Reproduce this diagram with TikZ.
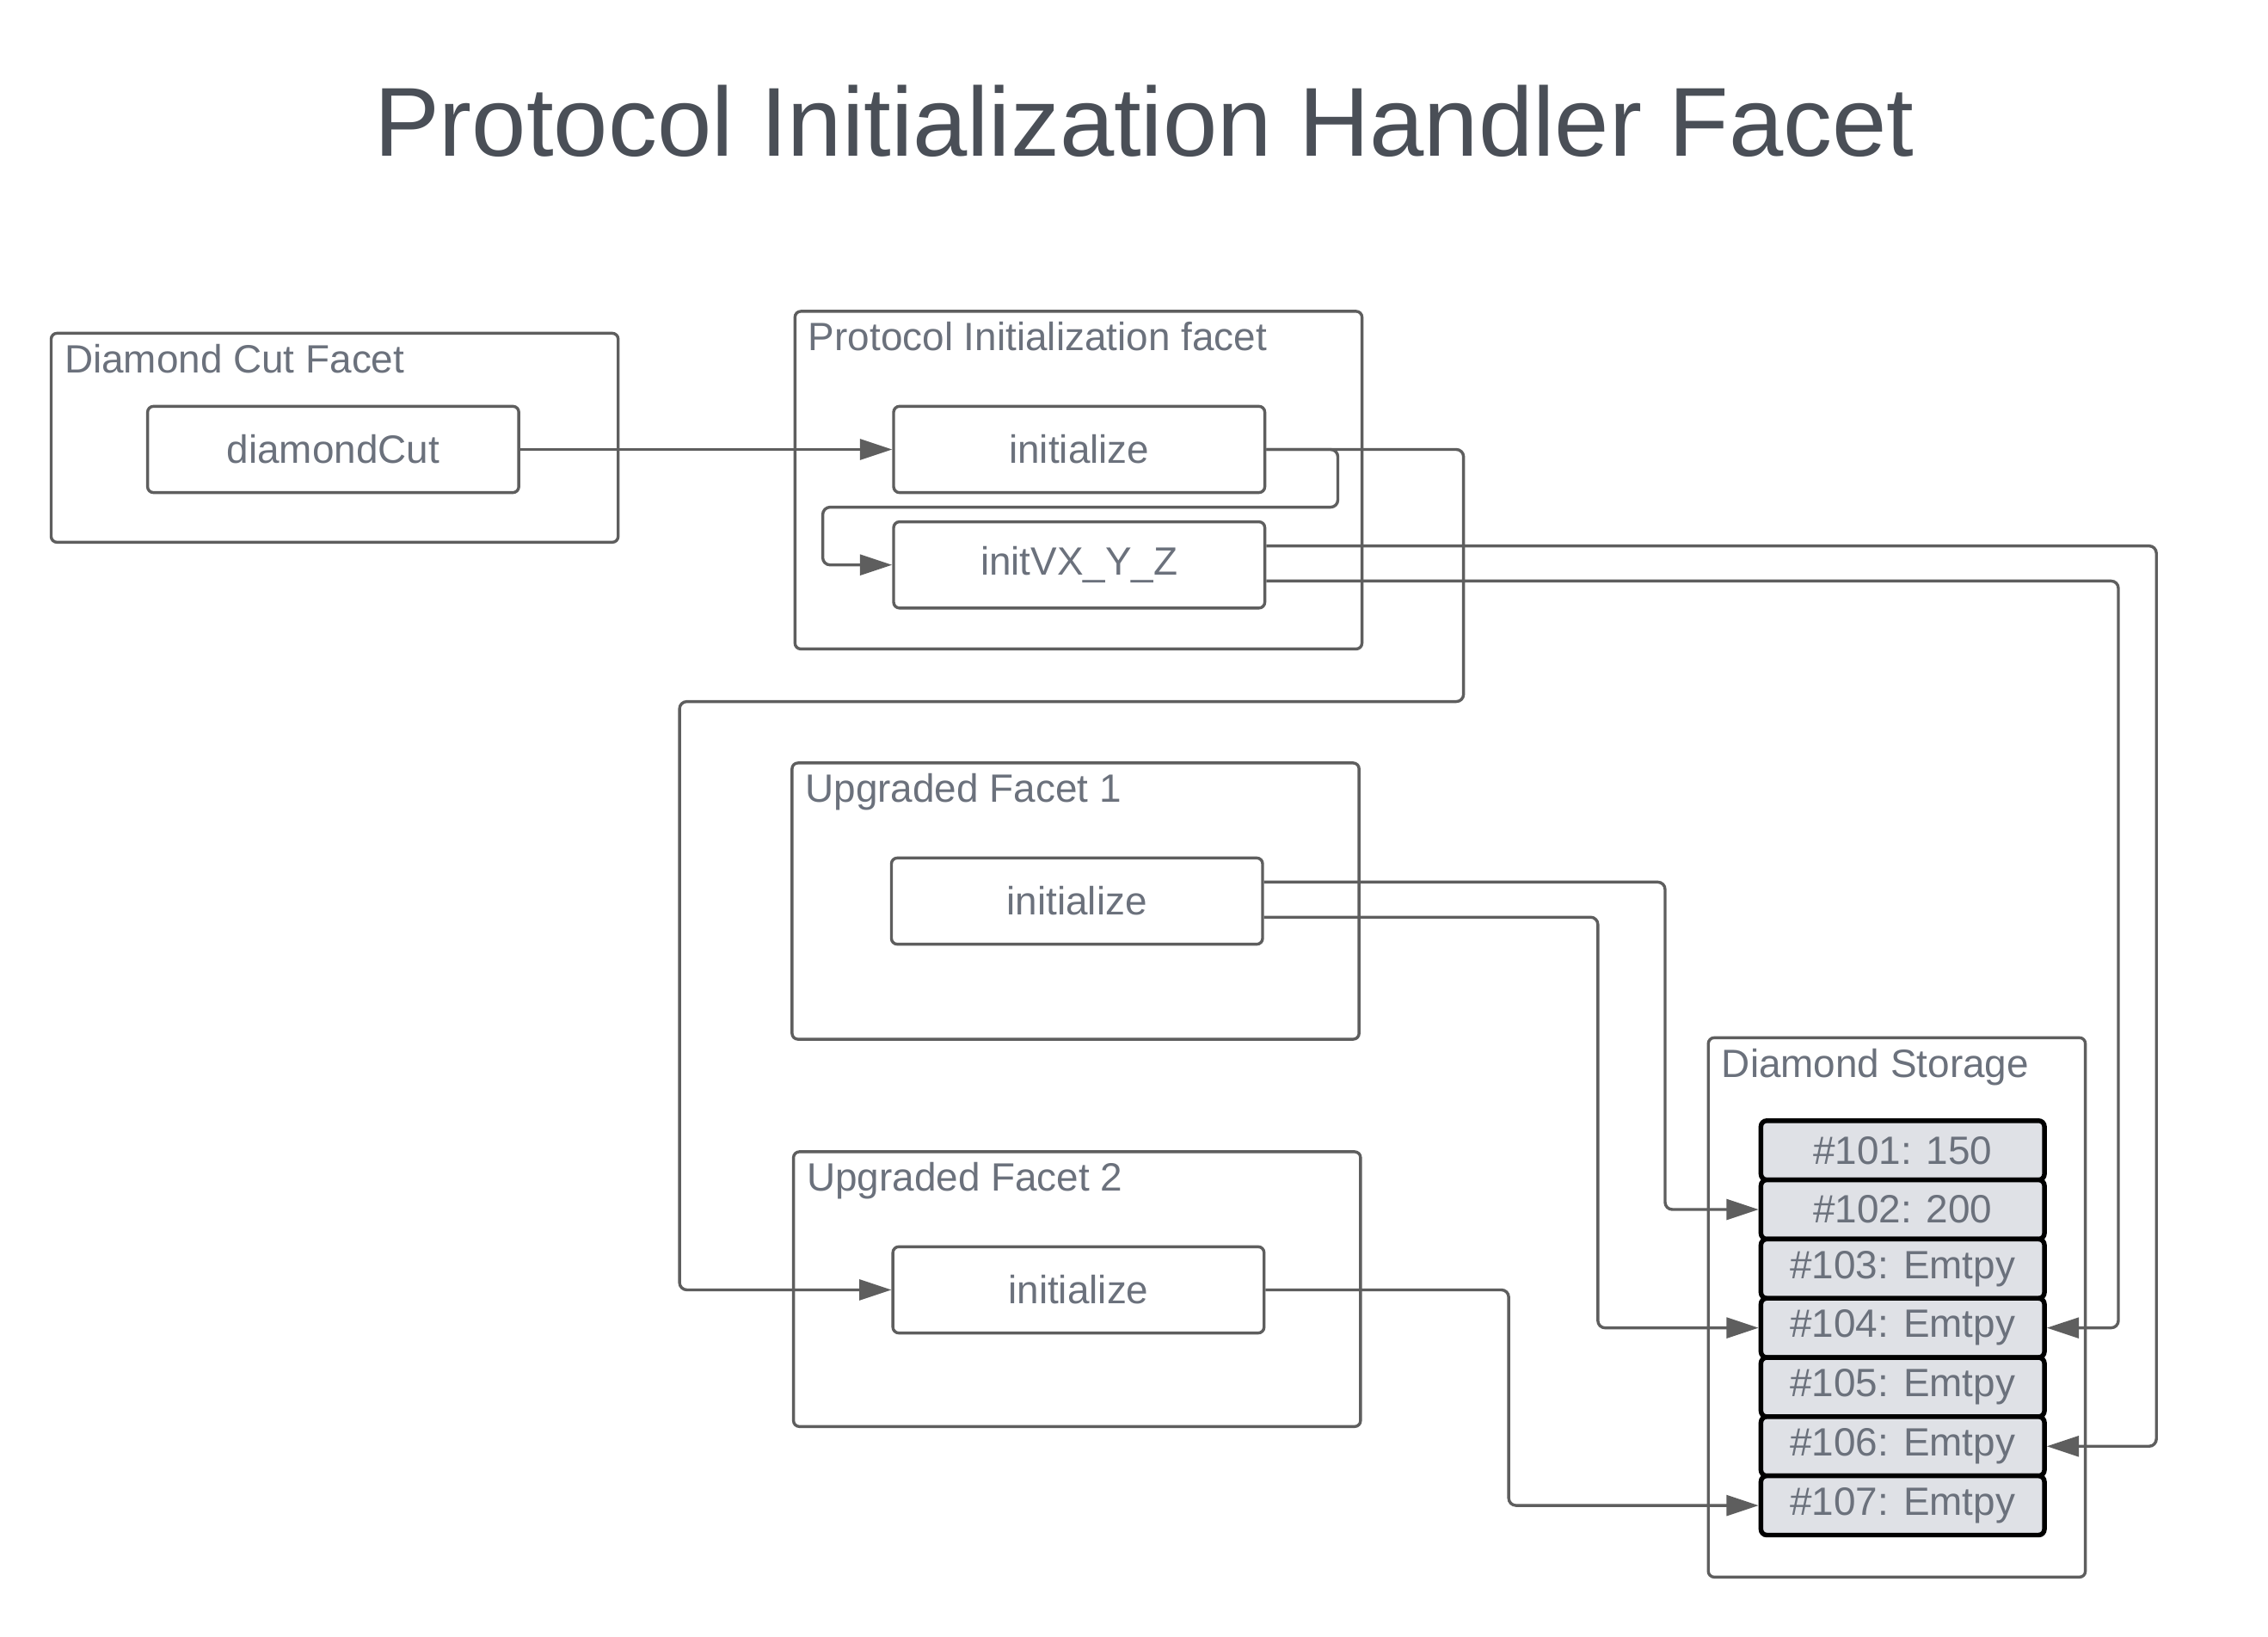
\documentclass[tikz,border=0pt]{standalone}
\usepackage{fontspec}
\setmainfont{Liberation Sans}
\usetikzlibrary{arrows.meta, calc}
\definecolor{titlegray}{HTML}{4A4F57}
\definecolor{textgray}{HTML}{6B717C}
\definecolor{linegray}{HTML}{5E5E5E}
\definecolor{cellfill}{HTML}{DFE1E6}

\begin{document}
\begin{tikzpicture}[x=1pt, y=-1pt,
        facet/.style={draw=linegray, line width=2pt, rounded corners=4pt, inner sep=0pt},
        facetlabel/.style={anchor=base west, inner sep=0pt, text=textgray, font=\fontsize{27}{32}\selectfont},
        fn/.style={draw=linegray, fill=white, line width=2pt, rounded corners=4pt, inner sep=0pt,
            minimum width=254pt, minimum height=59pt, text=textgray, font=\fontsize{27}{32}\selectfont},
        slot/.style={draw=black, fill=cellfill, line width=3.2pt, rounded corners=4pt, inner sep=0pt,
            minimum width=194pt, minimum height=40.5pt, text=textgray, font=\fontsize{27}{32}\selectfont},
        conn/.style={draw=linegray, line width=2pt, rounded corners=5pt, -{Triangle[length=22pt,width=14pt]}}]
        \fill[white] (0,0) rectangle (1552,1119.5);
        \useasboundingbox (0,0) rectangle (1552,1119.5);

        \node[anchor=base, text=titlegray, font=\fontsize{67}{80}\selectfont] (title) at (783,107) {Protocol Initialization Handler Facet};

        \node[facet, minimum width=388pt, minimum height=143pt] (cutfacet) at (229,299.5) {};
        \node[facet, minimum width=388pt, minimum height=231pt] (protofacet) at (738,328.5) {};
        \node[facet, minimum width=388pt, minimum height=189pt] (upgone) at (736,616.5) {};
        \node[facet, minimum width=388pt, minimum height=188pt] (upgtwo) at (737,882) {};
        \node[facet, minimum width=258pt, minimum height=369pt] (storage) at (1298,894.5) {};

        \node[facetlabel] (cutlabel) at ($(cutfacet.north west)+(10,28)$) {Diamond Cut Facet};
        \node[facetlabel] (protolabel) at ($(protofacet.north west)+(10,28)$) {Protocol Initialization facet};
        \node[facetlabel] (upgonelabel) at ($(upgone.north west)+(10,28)$) {Upgraded Facet 1};
        \node[facetlabel] (upgtwolabel) at ($(upgtwo.north west)+(10,28)$) {Upgraded Facet 2};
        \node[facetlabel] (storagelabel) at ($(storage.north west)+(10,28)$) {Diamond Storage};

        \node[fn] (cutfn) at (228,307.5) {diamondCut};
        \node[fn] (pinit) at (738.5,307.5) {initialize};
        \node[fn] (initv) at (738.5,386.5) {initVX\_Y\_Z};
        \node[fn] (uoneinit) at (737,616.5) {initialize};
        \node[fn] (utwoinit) at (738,882.5) {initialize};

        \foreach \n/\v [count=\i from 0] in {101/150, 102/200, 103/Emtpy, 104/Emtpy, 105/Emtpy, 106/Emtpy, 107/Emtpy}
            \node[slot] (c\n) at (1302,787+40.5*\i) {\#\n: \v};

        \draw[conn] (cutfn.east) -- (pinit.west);
        \draw[conn] (pinit.east) -- ++(135,0) |- (465,480) |- (utwoinit.west);
        \draw[conn] (pinit.east) -- ++(49,0) |- (563,347) |- (initv.west);

        \draw[conn] ([yshift=13pt]initv.east) -| ($(c106.east)+(75,0)$) -- (c106.east);
        \draw[conn] ([yshift=-11pt]initv.east) -| ($(c104.east)+(49,0)$) -- (c104.east);
        \draw[conn] ([yshift=13pt]uoneinit.east) -| ($(c102.west)+(-64,0)$) -- (c102.west);
        \draw[conn] ([yshift=-11pt]uoneinit.east) -| ($(c104.west)+(-110,0)$) -- (c104.west);
        \draw[conn] (utwoinit.east) -| ($(c107.west)+(-171,0)$) -- (c107.west);
    \end{tikzpicture}
\end{document}
